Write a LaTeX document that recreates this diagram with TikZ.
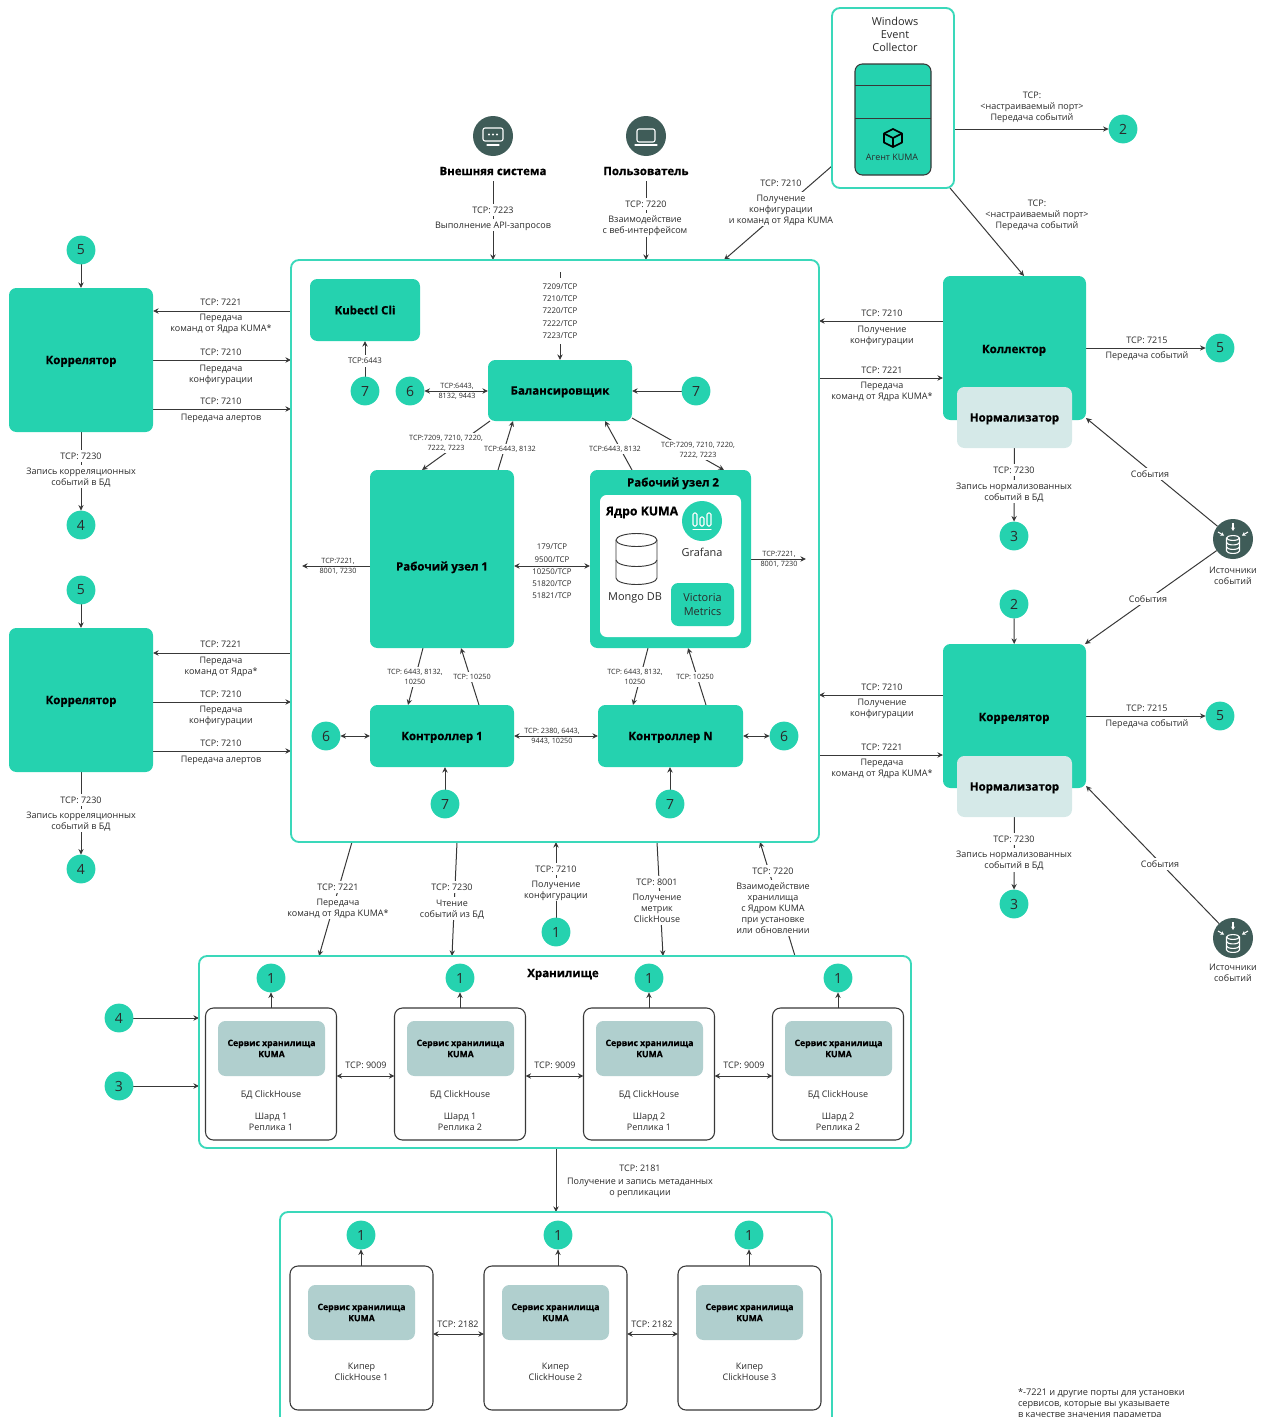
\documentclass[tikz,border=0pt]{standalone}
\usepackage{fontspec}
\setmainfont[BoldFeatures={FakeBold=0.6}]{Open Sans}
\usetikzlibrary{arrows.meta,backgrounds,calc}
\definecolor{kteal}{HTML}{25D2AF}
\definecolor{kframe}{HTML}{3AD8BA}
\definecolor{kdark}{HTML}{3F5C58}
\definecolor{kserv}{HTML}{B0CFCE}
\definecolor{knorm}{HTML}{D5E9E8}
\definecolor{kline}{HTML}{383838}
\definecolor{ktext}{HTML}{2A2A2A}
\newcounter{lblc}
\newcommand{\bx}[7]{\pgfmathsetmacro\myw{((#5)-(#3))*0.75}\pgfmathsetmacro\myh{((#6)-(#4))*0.75}%
 \node[#1,minimum width=\myw pt,minimum height=\myh pt] (#2) at ({((#3)+(#5))/2},{((#4)+(#6))/2}) {#7};}
\newcommand{\T}[4][lbl]{\stepcounter{lblc}\node[#1,name=t\thelblc] at (#2,#3) {#4};}
\newcommand{\B}[4]{\node[badge] (#1) at (#2,#3) {#4};}
\tikzset{
 every node/.style={outer sep=0pt,inner sep=0pt,text=ktext},
 tealbox/.style={fill=kteal,rounded corners=5.5pt,font=\fontsize{8.6}{11}\selectfont\bfseries,text=black,align=center,text depth=0pt},
 frame/.style={draw=kframe,line width=1.4pt,rounded corners=6pt},
 whitebox/.style={draw=kline,fill=white,line width=.8pt,rounded corners=6pt},
 servbox/.style={fill=kserv,rounded corners=5.5pt,font=\fontsize{6.5}{8.4}\selectfont\bfseries,text=black,align=center},
 normbox/.style={fill=knorm,rounded corners=5.5pt,font=\fontsize{8.6}{11}\selectfont\bfseries,text=black,align=center,text depth=0pt},
 badge/.style={circle,fill=kteal,minimum size=21.6pt,font=\fontsize{10.5}{12}\selectfont,text=ktext},
 dark/.style={circle,fill=kdark,minimum size=30pt},
 lbl/.style={fill=white,inner xsep=1.5pt,inner ysep=2.2pt,align=center,font=\fontsize{6.75}{8.3}\selectfont,text depth=0pt},
 lblp/.style={align=center,font=\fontsize{6.75}{8.3}\selectfont,text depth=0pt},
 sml/.style={fill=white,inner xsep=1pt,inner ysep=2pt,align=center,font=\fontsize{5.45}{7.3}\selectfont,text depth=0pt},
 smlp/.style={align=center,font=\fontsize{5.45}{7.3}\selectfont,text depth=0pt},
 cols/.style={align=center,font=\fontsize{5.9}{7.3}\selectfont,text depth=0pt},
 body/.style={align=center,font=\fontsize{6.75}{8.3}\selectfont,text depth=0pt},
 head/.style={align=center,font=\fontsize{8.6}{11}\selectfont\bfseries,text=black,text depth=0pt},
 conn/.style={draw=kline,line width=.75pt},
 arr/.style={conn,-{Stealth[length=4.2pt,width=4pt]}},
 barr/.style={conn,{Stealth[length=4.2pt,width=4pt]}-{Stealth[length=4.2pt,width=4pt]}},
 ico/.style={draw=white,line width=.8pt,line join=round,line cap=round},
 icoa/.style={draw=white,line width=.8pt,-{Stealth[length=2.6pt,width=3pt]}},
}
\begin{document}
\begin{tikzpicture}[x=0.75pt,y=-0.75pt]
\useasboundingbox (0,0) rectangle (1260,1417);
\clip (0,0) rectangle (1260,1417);
% frames
\bx{frame}{main}{291}{260}{819}{842}{}
\bx{frame}{win}{832}{8}{954}{188}{}
\bx{frame}{stor}{199}{956}{911}{1148}{}
\bx{frame}{keep}{280}{1212}{832}{1430}{}
% Windows collector
\node[body,font=\fontsize{8.2}{9.7}\selectfont] (wintxt) at (895,34.5) {Windows\\Event\\Collector};
\bx{draw=kline,fill=kteal,line width=.8pt,rounded corners=5.5pt}{agent}{855}{64}{931}{175}{}
\draw[conn] (agent.west |- 0,85) -- (agent.east |- 0,85);
\draw[conn] (agent.west |- 0,118) -- (agent.east |- 0,118);
\node[body,font=\fontsize{6.7}{8}\selectfont] (agtxt) at (892,157) {Агент KUMA};
\begin{scope}[shift={(893,138)},line width=1.3pt,line join=round,draw=black]
 \draw (0,-9) -- (9,-4.5) -- (9,4.5) -- (0,9) -- (-9,4.5) -- (-9,-4.5) -- cycle;
 \draw (-9,-4.5) -- (0,0) -- (9,-4.5) (0,0) -- (0,9);
\end{scope}
% top actors
\node[dark] (ext) at (493,136) {};
\node[dark] (usr) at (646,136) {};
\begin{scope}[shift={(493,136)}]
 \draw[ico,rounded corners=1.5pt] (-10,-8) rectangle (10,5);
 \draw[ico] (-6,9) -- (6,9);
 \fill[white] (-4,-1.5) circle (.8pt) (0,-1.5) circle (.8pt) (4,-1.5) circle (.8pt);
\end{scope}
\begin{scope}[shift={(646,136)}]
 \draw[ico,rounded corners=1.5pt] (-9,-7) rectangle (9,6);
 \draw[ico] (-11,9) -- (11,9);
\end{scope}
\node[head] (exttxt) at (493,171) {Внешняя система};
\node[head] (usrtxt) at (646,171) {Пользователь};
\T{493}{210}{TCP: 7223}
\T{493}{225}{Выполнение API-запросов}
\T{646}{204}{TCP: 7220}
\T{645}{225}{Взаимодействие\\с веб-интерфейсом}
\T{781}{183}{TCP: 7210}
\T{781}{209}{Получение\\конфигурации\\и команд от Ядра KUMA}
\T[lblp]{1032}{106}{TCP:\\<настраиваемый порт>\\Передача событий}
\T[lblp]{1037}{214.5}{TCP:\\<настраиваемый порт>\\Передача событий}
% left correlators
\bx{tealbox}{corA}{9}{288}{153}{432}{Коррелятор}
\bx{tealbox}{corB}{9}{628}{153}{772}{Коррелятор}
\B{b5a}{81}{250}{5}\B{b4a}{81}{525}{4}\B{b5b}{81}{590}{5}\B{b4b}{81}{869}{4}
\T[lblp]{221}{302}{TCP: 7221}
\T[lblp]{221}{323}{Передача\\команд от Ядра KUMA*}
\T[lblp]{221}{352}{TCP: 7210}
\T[lblp]{221}{373.5}{Передача\\конфигурации}
\T[lblp]{221}{401}{TCP: 7210}
\T[lblp]{221}{417}{Передача алертов}
\T[lblp]{221}{644}{TCP: 7221}
\T[lblp]{221}{665.5}{Передача\\команд от Ядра*}
\T[lblp]{221}{694}{TCP: 7210}
\T[lblp]{221}{715}{Передача\\конфигурации}
\T[lblp]{221}{743}{TCP: 7210}
\T[lblp]{221}{759}{Передача алертов}
\T{81}{456}{TCP: 7230}
\T{81}{476.5}{Запись корреляционных\\событий в БД}
\T{81}{800}{TCP: 7230}
\T{81}{820.5}{Запись корреляционных\\событий в БД}
% right column
\bx{tealbox}{coll}{943}{276}{1086}{420}{}
\bx{normbox}{normA}{957}{387}{1072}{448}{Нормализатор}
\node[head] (colltxt) at (1014,349) {Коллектор};
\bx{tealbox}{corC}{943}{644}{1086}{788}{}
\bx{normbox}{normB}{957}{756}{1072}{817}{Нормализатор}
\node[head] (corCtxt) at (1014,717) {Коррелятор};
\B{b2a}{1123}{129}{2}\B{b5c}{1220}{348}{5}\B{b3a}{1014}{536}{3}
\B{b2b}{1014}{604}{2}\B{b5d}{1220}{716}{5}\B{b3b}{1014}{904}{3}
\node[dark] (srcA) at (1233,539) {};
\node[dark] (srcB) at (1233,938) {};
\foreach \px/\py in {1233/539,1233/938}{
\begin{scope}[shift={(\px,\py)}]
 \draw[ico] (-6.5,-1) arc (180:360:6.5 and 2.4) -- (6.5,12) arc (0:180:6.5 and 2.4) -- cycle;
 \draw[ico] (-6.5,-1) arc (180:0:6.5 and 2.4);
 \draw[ico] (-6.5,3.5) arc (180:0:6.5 and 2.4) (-6.5,8) arc (180:0:6.5 and 2.4);
 \draw[icoa] (0,-16) -- (0,-8);
 \draw[icoa] (-15,-7) -- (-9,-3.5);
 \draw[icoa] (15,-7) -- (9,-3.5);
\end{scope}}
\T[body]{1233}{575.5}{Источники\\событий}
\T[body]{1233}{972.5}{Источники\\событий}
\T[lblp]{882}{313}{TCP: 7210}
\T[lblp]{882}{334.5}{Получение\\конфигурации}
\T[lblp]{882}{370}{TCP: 7221}
\T[lblp]{882}{390.5}{Передача\\команд от Ядра KUMA*}
\T[lblp]{1147}{340}{TCP: 7215}
\T[lblp]{1147}{355}{Передача событий}
\T{1014}{470}{TCP: 7230}
\T{1014}{491.5}{Запись нормализованных\\событий в БД}
\T{1150}{474}{События}
\T{1148}{599}{События}
\T[lblp]{882}{687}{TCP: 7210}
\T[lblp]{882}{707.5}{Получение\\конфигурации}
\T[lblp]{882}{747}{TCP: 7221}
\T[lblp]{882}{767.5}{Передача\\команд от Ядра KUMA*}
\T[lblp]{1147}{708}{TCP: 7215}
\T[lblp]{1147}{723}{Передача событий}
\T{1014}{839}{TCP: 7230}
\T{1014}{860}{Запись нормализованных\\событий в БД}
\T{1160}{864}{События}
% main contents
\bx{tealbox}{kub}{310}{279}{420}{341}{Kubectl Cli}
\bx{tealbox}{bal}{488}{360}{632}{421}{Балансировщик}
\bx{tealbox}{wrkA}{370}{470}{514}{648}{}
\node[head] (wrkAtxt) at (442,566) {Рабочий узел 1};
\bx{tealbox}{wrkB}{590}{470}{751}{648}{}
\node[head] (wrkBtxt) at (673,482) {Рабочий узел 2};
\bx{fill=white,rounded corners=5pt}{core}{600}{495}{741}{637}{}
\node[head,font=\fontsize{9.2}{11}\selectfont\bfseries] (coretxt) at (642,511) {Ядро KUMA};
\node[circle,fill=kteal,minimum size=30pt] (graf) at (702,521) {};
\begin{scope}[shift={(702,521)}]
 \draw[ico,rounded corners=1pt] (-9,-8) rectangle (-5,5);
 \draw[ico,rounded corners=1pt] (-2,-4) rectangle (2,5);
 \draw[ico,rounded corners=1pt] (5,-8) rectangle (9,5);
 \draw[ico] (-9,8.5) -- (9,8.5);
\end{scope}
\node[body,font=\fontsize{8.2}{10}\selectfont] (graftxt) at (702,552) {Grafana};
\node[body,font=\fontsize{8.2}{10}\selectfont] (mongotxt) at (635,597) {Mongo DB};
\bx{fill=kteal,rounded corners=5.5pt,align=center,font=\fontsize{8.2}{9.9}\selectfont,text=ktext}{vict}{671}{583}{734}{626}{Victoria\\Metrics}
\begin{scope}[draw=kline,line width=.7pt]
 \draw[fill=white] (616,540) arc (180:360:20.5 and 6.5) -- (657,578) arc (0:180:20.5 and 6.5) -- cycle;
 \draw (616,540) arc (180:0:20.5 and 6.5);
 \draw (616,560) arc (180:0:20.5 and 6.5);
\end{scope}
\bx{tealbox}{ctlA}{370}{705}{514}{767}{Контроллер 1}
\bx{tealbox}{ctlN}{598}{705}{743}{767}{Контроллер N}
\B{b7a}{365}{391}{7}\B{b6a}{410}{391}{6}\B{b7b}{696}{391}{7}
\B{b6b}{326}{736}{6}\B{b7c}{445}{804}{7}\B{b7d}{670}{804}{7}\B{b6c}{784}{736}{6}
\T[cols,fill=white,inner ysep=4pt,inner xsep=1pt]{560}{311}{7209/TCP\\[1.9pt]7210/TCP\\[1.9pt]7220/TCP\\[1.9pt]7222/TCP\\[1.9pt]7223/TCP}
\T[cols,fill=white,inner ysep=2pt,inner xsep=1pt]{365}{361}{TCP:6443}
\T[smlp]{457}{391}{TCP:6443,\\8132, 9443}
\T[sml]{446}{443}{TCP:7209, 7210, 7220,\\7222, 7223}
\T[sml]{510}{449}{TCP:6443, 8132}
\T[sml]{615}{449}{TCP:6443, 8132}
\T[sml]{698}{450}{TCP:7209, 7210, 7220,\\7222, 7223}
\T[smlp]{338}{566}{TCP:7221,\\8001, 7230}
\T[smlp]{779}{559}{TCP:7221,\\8001, 7230}
\T[cols]{552}{571.5}{179/TCP\\[1.9pt]9500/TCP\\[1.9pt]10250/TCP\\[1.9pt]51820/TCP\\[1.9pt]51821/TCP}
\T[sml]{415}{677}{TCP: 6443, 8132,\\10250}
\T[sml]{472}{677}{TCP: 10250}
\T[sml]{635}{677}{TCP: 6443, 8132,\\10250}
\T[sml]{695}{677}{TCP: 10250}
\T[smlp]{552}{736}{TCP: 2380, 6443,\\9443, 10250}
% between main and storage
\T{338}{887}{TCP: 7221}
\T{338}{907.5}{Передача\\команд от Ядра KUMA*}
\T{452}{887}{TCP: 7230}
\T{452}{908.5}{Чтение\\событий из БД}
\T{556}{869}{TCP: 7210}
\T{556}{889.5}{Получение\\конфигурации}
\T{657}{882}{TCP: 8001}
\T{657}{908}{Получение\\метрик\\ClickHouse}
\T{773}{871}{TCP: 7220}
\T{773}{908}{Взаимодействие\\хранилища\\с Ядром KUMA\\при установке\\или обновлении}
\B{b1c}{556}{932}{1}
% storage
\node[head] (stortxt) at (563,973) {Хранилище};
\B{b4c}{119}{1018}{4}\B{b3c}{119}{1086}{3}
\foreach \n/\x/\ta/\tb in {a/271/1/1,b/460/1/2,c/649/2/1,d/838/2/2}{
 \bx{whitebox}{st\n}{\x-65.5}{1008}{\x+65.5}{1140}{}
 \bx{servbox}{sv\n}{\x-53}{1021}{\x+54}{1076}{Сервис хранилища\\KUMA}
 \node[body] (db\n) at (\x,1094) {БД ClickHouse};
 \node[body] (sh\n) at (\x,1121.5) {Шард \ta\\Реплика \tb};
 \node[badge] (u\n) at (\x,978) {1};
}
\T[lblp]{366}{1065}{TCP: 9009}
\T[lblp]{555}{1065}{TCP: 9009}
\T[lblp]{744}{1065}{TCP: 9009}
\T[lblp]{640}{1168}{TCP: 2181}
\T[lblp]{640}{1186.5}{Получение и запись метаданных\\о репликации}
% keeper
\foreach \n/\x/\ux/\k in {e/361.5/361/1,f/555.5/558/2,g/749.5/749/3}{
 \bx{whitebox}{kp\n}{\x-71.5}{1266}{\x+71.5}{1410}{}
 \bx{servbox}{ks\n}{\x-53.5}{1285}{\x+53.5}{1340}{Сервис хранилища\\KUMA}
 \node[body] (kt\n) at (\x,1371.5) {Кипер\\ClickHouse \k};
 \node[badge] (v\n) at (\ux,1235) {1};
}
\T[lblp]{458}{1324}{TCP: 2182}
\T[lblp]{652}{1324}{TCP: 2182}
\node[anchor=north west,align=left,font=\fontsize{6.9}{8.3}\selectfont] (note) at (1018,1388) {*-7221 и другие порты для установки\\сервисов, которые вы указываете\\в качестве значения параметра};
% connectors
\begin{pgfonlayer}{background}
 \draw[arr] (exttxt.south |- 0,181) -- (main.north -| 493,0);
 \draw[arr] (usrtxt.south |- 0,181) -- (main.north -| 646,0);
 \draw[arr] (win.west |- 0,166) -- (main.north -| 724,0);
 \draw[arr] (win.east |- 0,129) -- (b2a);
 \draw[arr] (win.south -| 950,0) -- (coll.north -| 1024,0);
 % left
 \draw[arr] (main.west |- 0,311) -- (corA.east |- 0,311);
 \draw[arr] (corA.east |- 0,360) -- (main.west |- 0,360);
 \draw[arr] (corA.east |- 0,409) -- (main.west |- 0,409);
 \draw[arr] (main.west |- 0,653) -- (corB.east |- 0,653);
 \draw[arr] (corB.east |- 0,702) -- (main.west |- 0,702);
 \draw[arr] (corB.east |- 0,751) -- (main.west |- 0,751);
 \draw[arr] (b5a) -- (corA);
 \draw[arr] (corA) -- (b4a);
 \draw[arr] (b5b) -- (corB);
 \draw[arr] (corB) -- (b4b);
 % right
 \draw[arr] (coll.west |- 0,321) -- (main.east |- 0,321);
 \draw[arr] (main.east |- 0,378) -- (coll.west |- 0,378);
 \draw[arr] (coll.east |- 0,348) -- (b5c);
 \draw[arr] (normA) -- (b3a);
 \draw[arr] (srcA) -- (coll.east |- 0,418);
 \draw[arr] (srcA) -- (corC.north -| 1085,0);
 \draw[arr] (b2b) -- (corC);
 \draw[arr] (corC.west |- 0,695) -- (main.east |- 0,695);
 \draw[arr] (main.east |- 0,755) -- (corC.west |- 0,755);
 \draw[arr] (corC.east |- 0,716) -- (b5d);
 \draw[arr] (normB) -- (b3b);
 \draw[arr] (srcB) -- (corC.east |- 0,786);
 % main inner
 \draw[arr] (bal.north |- 0,272) -- (bal.north);
 \draw[arr] (b7a) -- (kub.south -| 365,0);
 \draw[barr] (b6a) -- (bal.west |- 0,391);
 \draw[arr] (b7b) -- (bal.east |- 0,391);
 \draw[arr] (bal.south -| 490,0) -- (wrkA.north -| 422,0);
 \draw[arr] (wrkA.north -| 498,0) -- (bal.south -| 513,0);
 \draw[arr] (wrkB.north -| 632,0) -- (bal.south -| 605,0);
 \draw[arr] (bal.east |- 630,418) -- (wrkB.north -| 724,0);
 \draw[arr] (wrkA.west |- 0,566) -- (302,566);
 \draw[arr] (wrkB.east |- 0,559) -- (806,559);
 \draw[barr] (wrkA.east |- 0,566) -- (wrkB.west |- 0,566);
 \draw[arr] (graftxt.south |- 0,562) -- (vict.north);
 \draw[arr] (wrkA.south -| 423,0) -- (ctlA.north -| 408,0);
 \draw[arr] (ctlA.north -| 479,0) -- (wrkA.south -| 461,0);
 \draw[arr] (wrkB.south -| 648,0) -- (ctlN.north -| 633,0);
 \draw[arr] (ctlN.north -| 706,0) -- (wrkB.south -| 688,0);
 \draw[barr] (ctlA) -- (ctlN);
 \draw[barr] (b6b) -- (ctlA);
 \draw[barr] (ctlN) -- (b6c);
 \draw[arr] (b7c) -- (ctlA.south -| 445,0);
 \draw[arr] (b7d) -- (ctlN.south -| 670,0);
 % main <-> storage
 \draw[arr] (main.south -| 352,0) -- (stor.north -| 319,0);
 \draw[arr] (main.south -| 457,0) -- (stor.north -| 452,0);
 \draw[arr] (b1c) -- (main.south -| 556,0);
 \draw[arr] (main.south -| 657,0) -- (stor.north -| 663,0);
 \draw[arr] (stor.north -| 795,0) -- (main.south -| 760,0);
 % storage
 \draw[arr] (b4c) -- (stor.west |- 0,1018);
 \draw[arr] (b3c) -- (stor.west |- 0,1086);
 \foreach \n in {a,b,c,d}{\draw[arr] (st\n.north) -- (u\n);}
 \draw[barr] (sta.east |- 0,1076) -- (stb.west |- 0,1076);
 \draw[barr] (stb.east |- 0,1076) -- (stc.west |- 0,1076);
 \draw[barr] (stc.east |- 0,1076) -- (std.west |- 0,1076);
 \draw[arr] (stor.south -| 556,0) -- (keep.north -| 556,0);
 % keeper
 \draw[arr] (kpe.north -| ve) -- (ve);
 \draw[arr] (kpf.north -| vf) -- (vf);
 \draw[arr] (kpg.north -| vg) -- (vg);
 \draw[barr] (kpe.east |- 0,1334) -- (kpf.west |- 0,1334);
 \draw[barr] (kpf.east |- 0,1334) -- (kpg.west |- 0,1334);
\end{pgfonlayer}
\end{tikzpicture}
\end{document}
